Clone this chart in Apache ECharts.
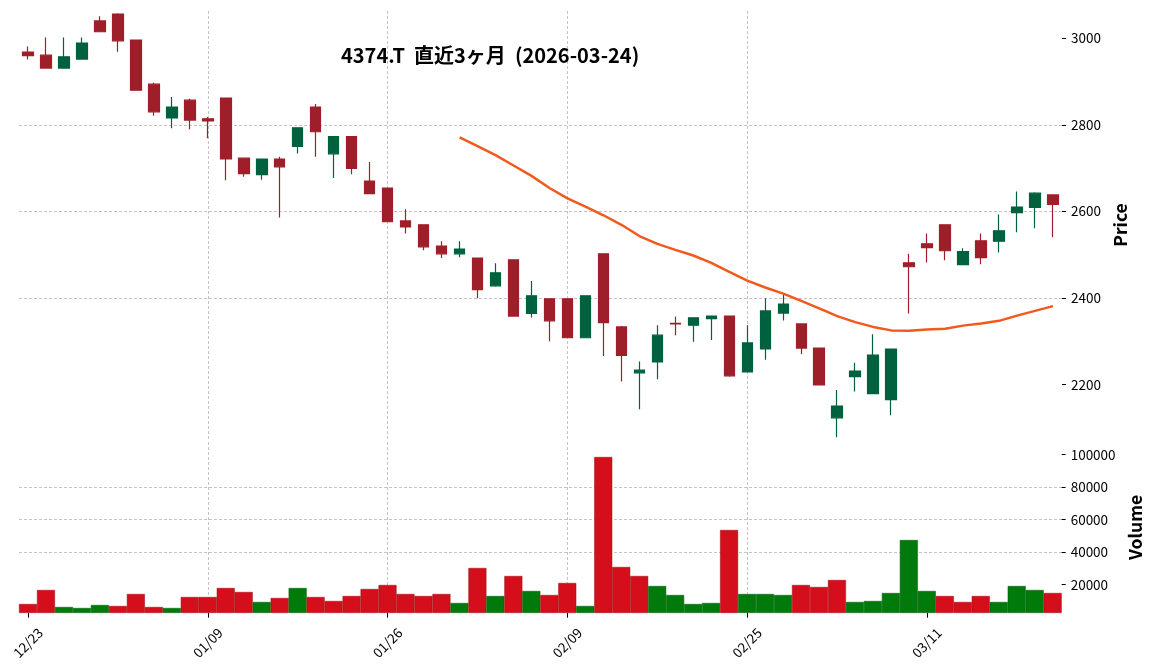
<!DOCTYPE html>
<html><head><meta charset="utf-8">
<script src="https://cdn.jsdelivr.net/npm/echarts@6/dist/echarts.min.js"></script>
<style>html,body{margin:0;padding:0;background:#fff}#c{width:1152px;height:670px}</style>
</head><body><div id="c"></div>
<script>
const titleText = '4374.T  直近3ヶ月  (2026-03-24)';
const dates = ['12/23','12/24','12/25','12/26','12/29','12/30','01/05','01/06','01/07','01/08','01/09','01/13','01/14','01/15','01/16','01/19','01/20','01/21','01/22','01/23','01/26','01/27','01/28','01/29','01/30','02/02','02/03','02/04','02/05','02/06','02/09','02/10','02/12','02/13','02/16','02/17','02/18','02/19','02/20','02/24','02/25','02/26','02/27','03/02','03/03','03/04','03/05','03/06','03/09','03/10','03/11','03/12','03/13','03/16','03/17','03/18','03/19','03/23'];
const opens  = [2968,2961,2931,2952,3040,3056,2996,2894,2816,2857,2814,2862,2723,2685,2721,2750,2841,2733,2773,2670,2654,2578,2569,2520,2502,2492,2428,2488,2364,2398,2398,2308,2502,2333,2227,2252,2341,2337,2352,2358,2229,2282,2365,2340,2284,2123,2218,2179,2165,2481,2525,2569,2477,2532,2531,2597,2609,2638];
const highs  = [2981,3002,3002,3002,3051,3058,2996,2897,2864,2860,2818,2862,2724,2721,2726,2793,2848,2773,2773,2714,2654,2605,2569,2531,2531,2492,2480,2488,2439,2399,2399,2405,2502,2335,2253,2337,2357,2355,2359,2359,2337,2399,2407,2340,2285,2187,2250,2316,2282,2502,2549,2569,2515,2549,2593,2646,2644,2638];
const lows   = [2951,2931,2931,2952,3014,2969,2879,2821,2792,2790,2769,2672,2680,2673,2586,2734,2726,2677,2686,2640,2575,2549,2510,2492,2494,2399,2426,2358,2355,2300,2308,2308,2266,2207,2143,2212,2314,2299,2303,2218,2229,2257,2348,2270,2198,2078,2184,2178,2129,2364,2482,2487,2477,2478,2505,2552,2561,2540];
const closes = [2960,2931,2957,2989,3015,2994,2880,2830,2841,2811,2809,2721,2687,2721,2703,2793,2784,2773,2699,2641,2576,2564,2518,2502,2513,2419,2458,2358,2405,2347,2308,2405,2343,2267,2233,2314,2340,2354,2358,2220,2296,2370,2386,2284,2199,2150,2231,2268,2282,2472,2516,2509,2507,2493,2555,2610,2642,2616];
const volumes = [8104,16718,6258,5643,7489,6874,14257,6258,5643,12411,12411,17949,15488,9335,11796,17949,12411,9950,13027,17333,19795,14257,13027,14257,8719,30255,13027,25333,16103,13642,21026,6874,98553,30870,25333,19180,13642,8104,8719,53636,14257,14257,13642,19795,18564,22871,9335,9950,14872,47483,16103,13027,9335,13027,9335,19180,16718,14872];
const ma25 = [null,null,null,null,null,null,null,null,null,null,null,null,null,null,null,null,null,null,null,null,null,null,null,null,2771,2751,2730,2706,2682,2654,2630,2611,2591,2569,2543,2525,2511,2498,2481,2460,2440,2424,2410,2393,2376,2358,2344,2333,2325,2324,2327,2329,2336,2341,2347,2359,2370,2381];
const priceTicks = [2200,2400,2600,2800,3000];
const volTicks = [20000,40000,60000,80000,100000];

const FONT = '"Noto Sans CJK JP", "Noto Sans", sans-serif';
const C_UP = '#00613f', C_DOWN = '#9e1f2a';
const V_UP = '#007a0a', V_DOWN = '#d40f1b';
const GRID_LINE = {show:true, showMinLine:false, showMaxLine:false, lineStyle:{color:'#b5b5b5', width:0.8, type:[3,2]}};
const LEFT = 19, RIGHT = 90;
const plain = (v)=> String(v);

const candleData = dates.map((d,i)=>[opens[i], closes[i], lows[i], highs[i]]);
const volData = volumes.map((v,i)=>{
  const up = i === 0 ? closes[i] >= opens[i] : closes[i] >= closes[i-1];
  return {value:v, itemStyle:{color: up ? V_UP : V_DOWN, borderColor: up ? '#005a08' : '#9a0a12'}};
});
const every10 = (idx)=> idx % 10 === 0;

const chart = echarts.init(document.getElementById('c'));
chart.setOption({
  animation:false,
  backgroundColor:'#fff',
  title:{text:titleText, left:336, top:40, textStyle:{fontFamily:FONT, fontSize:20, fontWeight:'bold', color:'#000'}},
  grid:[
    {left:LEFT, right:RIGHT, top:11, height:428},
    {left:LEFT, right:RIGHT, top:442, height:170.7}
  ],
  xAxis:[
    {type:'category', gridIndex:0, data:dates, boundaryGap:true,
     axisLine:{show:false}, axisTick:{show:false}, axisLabel:{show:false},
     splitLine:Object.assign({}, GRID_LINE, {interval:every10, alignWithLabel:true})},
    {type:'category', gridIndex:1, data:dates, boundaryGap:true,
     axisLine:{show:false},
     axisTick:{show:true, interval:every10, alignWithLabel:true, length:5, lineStyle:{color:'#000', width:1}},
     axisLabel:{show:true, interval:every10, rotate:45, align:'center', verticalAlign:'middle', margin:30, fontFamily:FONT, fontSize:13.5, color:'#000'},
     splitLine:Object.assign({}, GRID_LINE, {interval:every10, alignWithLabel:true})}
  ],
  yAxis:[
    {type:'value', gridIndex:0, position:'right', min:2074, max:3063, scale:true,
     name:'Price', nameLocation:'middle', nameRotate:90, nameGap:36,
     nameTextStyle:{fontFamily:FONT, fontSize:17.5, fontWeight:'bold', color:'#000'},
     axisLine:{show:false},
     axisTick:{show:true, length:4, customValues:priceTicks, lineStyle:{color:'#000', width:1}},
     axisLabel:{show:true, customValues:priceTicks, formatter:plain, margin:9, fontFamily:FONT, fontSize:13.5, color:'#000'},
     splitLine:GRID_LINE},
    {type:'value', gridIndex:1, position:'right', min:2750, max:107800,
     name:'Volume', nameLocation:'middle', nameRotate:90, nameGap:52,
     nameTextStyle:{fontFamily:FONT, fontSize:17.5, fontWeight:'bold', color:'#000'},
     axisLine:{show:false},
     axisTick:{show:true, length:4, customValues:volTicks, lineStyle:{color:'#000', width:1}},
     axisLabel:{show:true, customValues:volTicks, formatter:plain, margin:9, fontFamily:FONT, fontSize:13.5, color:'#000'},
     splitLine:GRID_LINE}
  ],
  series:[
    {type:'candlestick', xAxisIndex:0, yAxisIndex:0, data:candleData, barWidth:11,
     itemStyle:{color:C_UP, color0:C_DOWN, borderColor:C_UP, borderColor0:C_DOWN, borderWidth:1.2}},
    {type:'line', xAxisIndex:0, yAxisIndex:0, data:ma25, showSymbol:false, symbol:'none',
     lineStyle:{color:'#f2591d', width:2.5}, connectNulls:false},
    {type:'bar', xAxisIndex:1, yAxisIndex:1, data:volData, barWidth:'100%', barCategoryGap:'0%',
     itemStyle:{borderWidth:0.5}}
  ]
});
</script></body></html>
